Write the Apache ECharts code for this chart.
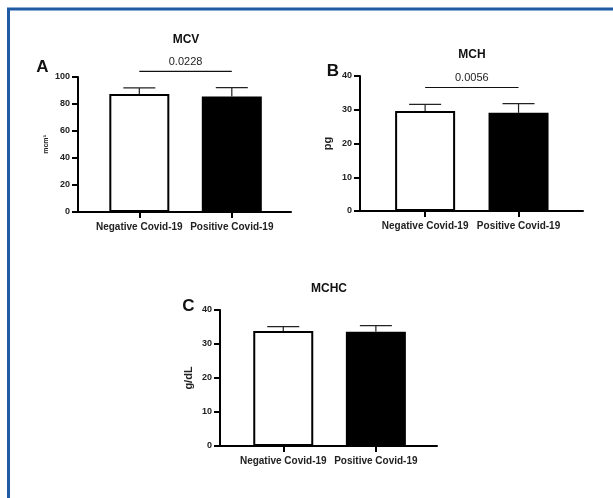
<!DOCTYPE html>
<html>
<head>
<meta charset="utf-8">
<script src="https://cdn.jsdelivr.net/npm/echarts@6/dist/echarts.min.js"></script>
<style>
  html, body { margin: 0; padding: 0; background: #fff; }
  #chart { width: 613px; height: 498px; }
</style>
</head>
<body>
<div id="chart"></div>
<script>
// groups on the x axis
const categories = ['Negative Covid-19', 'Positive Covid-19'];
const categoryPos = [1, 2];

// MCV (mcm³)
const mcvMean = [87.5, 85.5];
const mcvUpper = [91.9, 92.1];
// MCH (pg)
const mchMean = [29.6, 29.1];
const mchUpper = [31.6, 31.8];
// MCHC (g/dL)
const mchcMean = [33.8, 33.6];
const mchcUpper = [35.1, 35.4];

// significance brackets: [panel, height, label]
const sigPanels = [0, 1];
const sigHeights = [104.2, 36.6];
const sigLabels = ['0.0228', '0.0056'];

const yTicksMcv = [0, 20, 40, 60, 80, 100];
const yTicksMch = [0, 10, 20, 30, 40];
const yTicksMchc = [0, 10, 20, 30, 40];

const FONT = '"Liberation Sans", Arial, sans-serif';

const chart = echarts.init(document.getElementById('chart'));

const panels = [
  { mean: mcvMean, upper: mcvUpper, ticks: yTicksMcv, interval: 20, name: 'mcm³', nameSize: 7, nameGap: 28,
    grid: { left: 78, top: 77, width: 213, height: 135 }, xmin: 0.337, xmax: 2.64 },
  { mean: mchMean, upper: mchUpper, ticks: yTicksMch, interval: 10, name: 'pg', nameSize: 11, nameGap: 27,
    grid: { left: 360, top: 76, width: 223, height: 135 }, xmin: 0.303, xmax: 2.69 },
  { mean: mchcMean, upper: mchcUpper, ticks: yTicksMchc, interval: 10, name: 'g/dL', nameSize: 11, nameGap: 26,
    grid: { left: 220, top: 310, width: 217, height: 136 }, xmin: 0.317, xmax: 2.66 }
];

const grids = [], xAxes = [], yAxes = [], series = [];

panels.forEach(function (p, i) {
  grids.push(Object.assign({ containLabel: false }, p.grid));
  xAxes.push({
    type: 'value', gridIndex: i, min: p.xmin, max: p.xmax,
    splitLine: { show: false },
    axisLine: { show: true, lineStyle: { color: '#000', width: 2 } },
    axisTick: { show: true, customValues: categoryPos, length: 6, lineStyle: { color: '#000', width: 2 } },
    axisLabel: {
      customValues: categoryPos, margin: 10, color: '#222', fontFamily: FONT, fontWeight: 'bold', fontSize: 10,
      formatter: function (v) { return categories[Math.round(v) - 1]; }
    }
  });
  yAxes.push({
    type: 'value', gridIndex: i, min: 0, max: p.ticks[p.ticks.length - 1], interval: p.interval,
    name: p.name, nameLocation: 'middle', nameRotate: 90, nameGap: p.nameGap,
    nameTextStyle: { color: '#222', fontFamily: FONT, fontWeight: 'bold', fontSize: p.nameSize },
    splitLine: { show: false },
    axisLine: { show: true, lineStyle: { color: '#000', width: 2 } },
    axisTick: { show: true, length: 6, lineStyle: { color: '#000', width: 2 } },
    axisLabel: { margin: 8, color: '#222', fontFamily: FONT, fontWeight: 'bold', fontSize: 9 }
  });
  series.push({
    type: 'bar', xAxisIndex: i, yAxisIndex: i, barWidth: 60,
    data: p.mean.map(function (v, k) {
      return {
        value: [categoryPos[k], v],
        itemStyle: { color: k === 0 ? '#fff' : '#000', borderColor: '#000', borderWidth: 2 }
      };
    }),
    z: 2
  });
  // upper error whisker with cap
  series.push({
    type: 'custom', xAxisIndex: i, yAxisIndex: i, clip: false, z: 1,
    data: p.mean.map(function (v, k) { return [categoryPos[k], v, p.upper[k]]; }),
    renderItem: function (params, api) {
      const base = api.coord([api.value(0), api.value(1)]);
      const top = api.coord([api.value(0), api.value(2)]);
      const half = 16;
      return {
        type: 'group',
        children: [
          { type: 'line', shape: { x1: base[0], y1: base[1], x2: top[0], y2: top[1] },
            style: { stroke: '#222', lineWidth: 1.2 } },
          { type: 'line', shape: { x1: top[0] - half, y1: top[1], x2: top[0] + half, y2: top[1] },
            style: { stroke: '#222', lineWidth: 1.2 } }
        ]
      };
    }
  });
});

// significance lines with p values
sigPanels.forEach(function (pi, k) {
  series.push({
    type: 'custom', xAxisIndex: pi, yAxisIndex: pi, clip: false, z: 3,
    data: [[categoryPos[0], categoryPos[1], sigHeights[k]]],
    renderItem: function (params, api) {
      const a = api.coord([api.value(0), api.value(2)]);
      const b = api.coord([api.value(1), api.value(2)]);
      return {
        type: 'group',
        children: [
          { type: 'line', shape: { x1: a[0], y1: a[1], x2: b[0], y2: b[1] },
            style: { stroke: '#111', lineWidth: 1.2 } },
          { type: 'text', x: (a[0] + b[0]) / 2, y: a[1] - 4,
            style: { text: sigLabels[k], fill: '#222', font: '11px ' + FONT, align: 'center', verticalAlign: 'bottom' } }
        ]
      };
    }
  });
});

function titleText(text, x, y, size) {
  return {
    text: text, left: x, top: y, textAlign: 'center', padding: 0,
    textStyle: { color: '#111', fontFamily: FONT, fontWeight: 'bold', fontSize: size }
  };
}

chart.setOption({
  animation: false,
  backgroundColor: '#fff',
  title: [
    titleText('MCV', 186, 34, 12),
    titleText('MCH', 472, 49, 12),
    titleText('MCHC', 329, 283, 12),
    titleText('A', 42.5, 59, 17),
    titleText('B', 333, 63, 17),
    titleText('C', 188.5, 298, 17)
  ],
  graphic: [{
    type: 'rect', silent: true,
    shape: { x: 8.5, y: 9, width: 700, height: 600 },
    style: { fill: 'none', stroke: '#1f5ba3', lineWidth: 3 }
  }],
  grid: grids,
  xAxis: xAxes,
  yAxis: yAxes,
  series: series
});
</script>
</body>
</html>
